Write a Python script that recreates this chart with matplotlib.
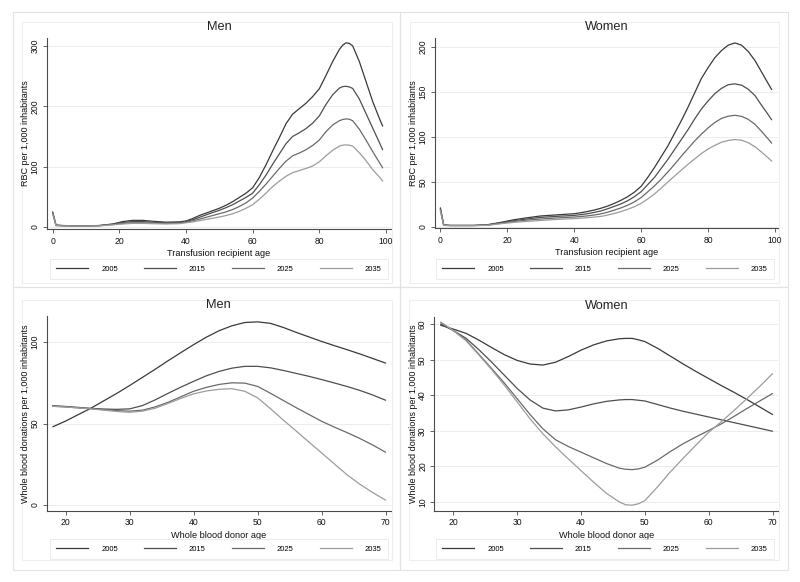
import matplotlib
matplotlib.use("Agg")
import matplotlib.pyplot as plt
from matplotlib.patches import Rectangle
from matplotlib.lines import Line2D

plt.rcParams['font.family'] = ['Liberation Sans', 'DejaVu Sans']

years = ["2005", "2015", "2025", "2035"]
colors = ["#3a3a3a", "#4f4f4f", "#6a6a6a", "#9c9c9c"]

# ---- Men RBC per 1,000 inhabitants ----
men_rbc_age = [0, 1, 3, 6, 10, 14, 18, 21, 24, 27, 30, 34, 38,
               40, 42, 44, 46, 48, 50, 52, 54, 56, 58, 60, 62, 64, 66, 68, 70, 72, 74,
               76, 78, 80, 82, 84, 86, 87, 88, 89, 90, 92, 94, 96, 98, 99]
men_rbc_2005 = [25, 3, 2.5, 2, 2, 2.5, 5, 9, 11, 11, 9.5, 8, 8.5,
                10, 14, 19, 23, 27, 31, 36, 42, 49, 56, 65, 82, 103, 126, 148, 171, 187, 196,
                205, 216, 229, 251, 274, 294, 301, 305, 304, 300, 274, 241, 208, 180, 167]
men_rbc_2015 = [24, 3, 2.3, 2, 2, 2.3, 4.5, 7.5, 9, 9, 8, 7, 7.5,
                9, 12, 16, 20, 24, 27.6, 32, 37, 43, 49, 56, 70, 86, 104, 121, 138, 150, 156,
                163, 172, 184, 203, 219, 230, 232.5, 233, 232, 229.5, 212, 188, 164, 140, 128]
men_rbc_2025 = [23, 2.5, 2, 1.8, 1.8, 2.1, 4, 6, 7, 7, 6.5, 6, 6.5,
                8, 10, 13, 16, 19, 22, 25, 29, 34, 40, 48, 59, 71, 84, 97, 109, 118, 122.5,
                128, 135, 144, 158, 169, 176, 178, 179, 178.5, 176, 162, 144, 125, 107, 98]
men_rbc_2035 = [22, 2.2, 1.8, 1.6, 1.6, 1.9, 3.5, 5, 6, 6, 5.5, 5, 5.5,
                7, 8.5, 10.5, 12.5, 14.5, 16.6, 19, 22, 26, 31, 37, 46, 56, 67, 76, 84, 90, 93.5,
                97, 101, 108, 118, 127, 134, 135.5, 136, 135.5, 134, 123, 110, 95, 83, 76]

# ---- Women RBC per 1,000 inhabitants ----
wom_rbc_age = [0, 1, 3, 6, 10, 14, 18, 22, 26, 30, 34, 38,
               40, 42, 44, 46, 48, 50, 52, 54, 56, 58, 60, 62, 64, 66, 68, 70, 72, 74, 76,
               78, 80, 82, 84, 86, 88, 90, 92, 94, 96, 98, 99]
wom_rbc_2005 = [21, 2, 1.5, 1.5, 1.5, 2.2, 4.8, 7.8, 10, 12, 13, 14,
                14.5, 15.6, 17, 18.6, 20.6, 23, 26, 29.5, 33.5, 38.5, 45, 55, 66, 78, 90, 104,
                118, 133, 149, 165, 177, 188, 196, 202, 204.5, 202, 195, 185, 172, 159, 152.6]
wom_rbc_2015 = [20, 1.8, 1.4, 1.4, 1.4, 2, 4.3, 6.8, 8.7, 10.4, 11.4, 12.2,
                12.6, 13.5, 14.5, 16, 17.6, 20, 22.7, 25.5, 29, 33.5, 39, 47, 55, 65, 75, 86,
                97, 108, 120, 131, 140, 148, 154, 158, 159, 157.5, 153, 146, 135, 124.5, 119]
wom_rbc_2025 = [19, 1.6, 1.3, 1.3, 1.3, 1.8, 3.8, 5.8, 7.4, 8.6, 9.6, 10.4,
                10.8, 11.4, 12.1, 13.1, 14.3, 16.2, 18.5, 21, 24, 27.7, 32.5, 39, 45.5, 53, 61,
                69.5, 78.5, 87, 95.5, 103, 110, 116, 120.5, 123, 124, 122.8, 119.5, 114, 106,
                97.5, 93]
wom_rbc_2035 = [18, 1.5, 1.2, 1.2, 1.2, 1.6, 3.3, 4.9, 6, 7, 8, 8.7,
                9, 9.5, 10.1, 10.8, 11.5, 13, 14.8, 16.9, 19.4, 22.3, 26, 31, 36.5, 43, 49.8,
                56.5, 63, 69.5, 75.5, 81.5, 86.5, 90.5, 94, 96, 97, 96.3, 93.5, 89, 83, 76.5, 73]

# ---- Men whole blood donations per 1,000 inhabitants ----
men_wb_age = [18, 20, 22, 24, 26, 28, 30, 32, 34, 36, 38, 40, 42, 44, 46, 48, 50, 52, 54,
              56, 58, 60, 62, 64, 66, 68, 70]
men_wb_2005 = [48, 51.5, 55.5, 59.5, 64, 68.5, 73.3, 78.3, 83.3, 88.5, 93.5, 98.4, 103, 107,
               110, 112, 112.4, 111.5, 109, 106, 103.2, 100.4, 97.8, 95.3, 92.7, 89.9, 87.1]
men_wb_2015 = [61, 60.5, 59.9, 59.3, 58.9, 58.7, 59, 61, 64.5, 68.5, 72.3, 75.9, 79.3, 82,
               84, 85.1, 85.1, 84.2, 82.6, 80.8, 79, 77, 74.9, 72.7, 70.3, 67.5, 64.3]
men_wb_2025 = [60.6, 60.2, 59.6, 59.1, 58.5, 57.9, 57.6, 58.2, 60.2, 63, 66.4, 69.8, 72.2,
               74, 75, 74.8, 72.8, 68.6, 64.2, 59.8, 55.6, 51.4, 47.8, 44.4, 40.8, 36.8, 32.4]
men_wb_2035 = [60.6, 60.2, 59.6, 59, 58.2, 57.4, 56.9, 57.6, 59.4, 62.3, 65.4, 68.2, 70, 71,
               71.4, 69.8, 65.8, 59.2, 52.2, 45.5, 38.7, 32, 25.2, 18.5, 12.7, 7.6, 3]

# ---- Women whole blood donations per 1,000 inhabitants ----
wom_wb_age = [18, 20, 22, 24, 26, 28, 30, 32, 34, 36, 38, 40, 42, 44, 46, 47, 48, 49, 50,
              52, 54, 56, 58, 60, 62, 64, 66, 68, 70]
wom_wb_2005 = [59.7, 58.6, 57.4, 55.5, 53.4, 51.4, 49.8, 48.8, 48.5, 49.3, 50.9, 52.7, 54.2,
               55.3, 55.9, 56, 56, 55.6, 55.1, 53.2, 51, 48.8, 46.7, 44.7, 42.7, 40.8, 38.8,
               36.7, 34.6]
wom_wb_2015 = [60, 58.2, 56, 52.8, 49.3, 45.6, 41.9, 38.7, 36.4, 35.6, 35.9, 36.7, 37.6,
               38.3, 38.7, 38.8, 38.8, 38.6, 38.4, 37.4, 36.4, 35.5, 34.7, 33.9, 33.1, 32.3,
               31.5, 30.7, 29.9]
wom_wb_2025 = [60.4, 58.2, 55.5, 51.5, 47.5, 43.4, 39, 34.6, 30.6, 27.5, 25.6, 24, 22.4,
               20.8, 19.5, 19.2, 19.1, 19.3, 19.8, 21.8, 24.2, 26.4, 28.3, 30.1, 32, 34.1,
               36.3, 38.4, 40.5]
wom_wb_2035 = [60.6, 58.2, 55.3, 51.3, 47.2, 42.8, 38.1, 33.4, 29.2, 25.5, 22.1, 18.8, 15.5,
               12.4, 10, 9.2, 9.1, 9.5, 10.4, 14.3, 18.5, 22.3, 26, 29.6, 32.6, 35.8, 39.1,
               42.5, 46.1]

W, H = 800, 582
fig = plt.figure(figsize=(8, 5.82), dpi=100)
fig.patch.set_facecolor("white")


def fx(x):
    return x / W


def fy(y):
    return 1 - y / H


def frame(x0, y0, x1, y1, color, lw=0.8):
    fig.add_artist(Rectangle((fx(x0), fy(y1)), fx(x1) - fx(x0), fy(y0) - fy(y1),
                             transform=fig.transFigure, fill=False, edgecolor=color,
                             linewidth=lw, zorder=0))


# outer graph-region frames
frame(13, 12, 400, 287, "#e2e2e2")
frame(400, 12, 788, 287, "#e2e2e2")
frame(13, 287, 400, 570, "#e2e2e2")
frame(400, 287, 788, 570, "#e2e2e2")
# inner plot-region boxes
frame(22, 22, 392, 283, "#eeeeee")
frame(410, 22, 779, 283, "#eeeeee")
frame(22, 300, 392, 560, "#eeeeee")
frame(409, 300, 779, 560, "#eeeeee")

panels = [
    dict(box=(47, 38, 391, 229), title="Men", x=men_rbc_age,
         ys=[men_rbc_2005, men_rbc_2015, men_rbc_2025, men_rbc_2035],
         xlim=(-1.7, 101.5), ylim=(-3.3, 313), xt=[0, 20, 40, 60, 80, 100],
         yt=[0, 100, 200, 300], xl="Transfusion recipient age",
         yl="RBC per 1,000 inhabitants", ylx=30, leg=(219, 269)),
    dict(box=(435, 38, 777.7, 228), title="Women", x=wom_rbc_age,
         ys=[wom_rbc_2005, wom_rbc_2015, wom_rbc_2025, wom_rbc_2035],
         xlim=(-1.6, 100.8), ylim=(-1.4, 210), xt=[0, 20, 40, 60, 80, 100],
         yt=[0, 50, 100, 150, 200], xl="Transfusion recipient age",
         yl="RBC per 1,000 inhabitants", ylx=418, leg=(605, 269)),
    dict(box=(47, 316, 390.7, 510.7), title="Men", x=men_wb_age,
         ys=[men_wb_2005, men_wb_2015, men_wb_2025, men_wb_2035],
         xlim=(17.1, 70.8), ylim=(-3.5, 116), xt=[20, 30, 40, 50, 60, 70],
         yt=[0, 50, 100], xl="Whole blood donor age",
         yl="Whole blood donations per 1,000 inhabitants", ylx=30, leg=(219, 549)),
    dict(box=(434.3, 316.7, 778.3, 510.7), title="Women", x=wom_wb_age,
         ys=[wom_wb_2005, wom_wb_2015, wom_wb_2025, wom_wb_2035],
         xlim=(17.0, 70.9), ylim=(7.55, 62.1), xt=[20, 30, 40, 50, 60, 70],
         yt=[10, 20, 30, 40, 50, 60], xl="Whole blood donor age",
         yl="Whole blood donations per 1,000 inhabitants", ylx=417.5, leg=(605, 549)),
]

axis_col = "#4a4a4a"
for p in panels:
    x0, y0, x1, y1 = p["box"]
    ax = fig.add_axes([fx(x0), fy(y1), fx(x1) - fx(x0), fy(y0) - fy(y1)])
    ax.set_facecolor("none")
    for y, c in zip(p["ys"], colors):
        ax.plot(p["x"], y, color=c, linewidth=0.9, solid_joinstyle="round",
                solid_capstyle="round")
    ax.set_xlim(*p["xlim"])
    ax.set_ylim(*p["ylim"])
    ax.set_xticks(p["xt"])
    ax.set_yticks(p["yt"])
    ax.set_yticklabels([str(v) for v in p["yt"]], rotation=90, va="center")
    ax.tick_params(axis="both", direction="out", length=3, width=0.6,
                   color=axis_col, labelsize=6.2, labelcolor="#111111", pad=2.5)
    ax.tick_params(axis="y", pad=2.2)
    for s in ("top", "right"):
        ax.spines[s].set_visible(False)
    for s in ("left", "bottom"):
        ax.spines[s].set_color(axis_col)
        ax.spines[s].set_linewidth(0.8)
    ax.yaxis.grid(True, color="#ececec", linewidth=0.7)
    ax.set_axisbelow(True)
    h = y1 - y0
    w = x1 - x0
    ax.set_xlabel(p["xl"], fontsize=6.6, color="#111111")
    ax.xaxis.set_label_coords(0.5, -20.5 / h)
    ax.set_ylabel(p["yl"], fontsize=6.5, color="#111111")
    ax.yaxis.set_label_coords((p["ylx"] - x0) / w, 0.5)
    fig.text(fx((x0 + x1) / 2), fy(y0 - 10.5), p["title"], fontsize=9.2,
             ha="center", va="center", color="#222222")
    handles = [Line2D([0], [0], color=c, linewidth=0.9) for c in colors]
    lg = fig.legend(handles, years, loc="center",
                    bbox_to_anchor=(fx(p["leg"][0]), fy(p["leg"][1])),
                    ncol=4, fontsize=5.5, frameon=True, fancybox=False,
                    handlelength=4.2, handletextpad=1.7, columnspacing=3.4,
                    borderpad=0.8)
    lg.get_frame().set_edgecolor("#e6e6e6")
    lg.get_frame().set_linewidth(0.7)

fig.savefig("out.png", dpi=100, facecolor="white")
